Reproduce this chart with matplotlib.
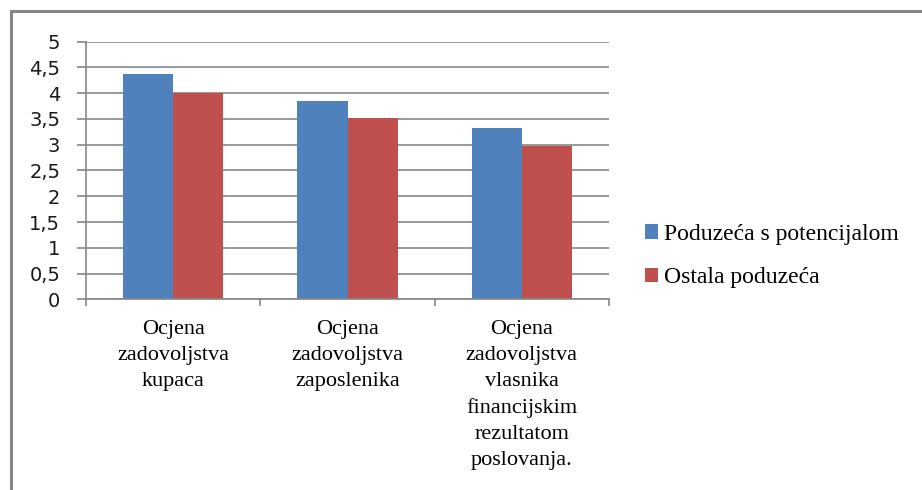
# -*- coding: utf-8 -*-

# Grouped bar chart: satisfaction scores, companies with potential vs others.
import matplotlib
matplotlib.use("Agg")
import matplotlib.pyplot as plt
from matplotlib.patches import Rectangle
import numpy as np

categories = ["Ocjena\nzadovoljstva\nkupaca",
              "Ocjena\nzadovoljstva\nzaposlenika",
              "Ocjena\nzadovoljstva\nvlasnika\nfinancijskim\nrezultatom\nposlovanja."]
series_names = ["Poduzeća s potencijalom", "Ostala poduzeća"]
potencijal = [4.37, 3.85, 3.33]
ostala = [4.01, 3.51, 2.98]
y_ticks = [0, 0.5, 1, 1.5, 2, 2.5, 3, 3.5, 4, 4.5, 5]
y_labels = ["0", "0,5", "1", "1,5", "2", "2,5", "3", "3,5", "4", "4,5", "5"]

grid_col = "#868686"
blue = "#4F81BD"
red = "#C0504D"
serif = "Liberation Serif"

fig = plt.figure(figsize=(9.22, 4.90), dpi=100)

# Chart frame (runs off the right and bottom of the picture).
fig.patches.append(Rectangle((10.5 / 922, -0.1), 1.2, 1 - 11.5 / 490 + 0.1,
                             transform=fig.transFigure, fill=False,
                             edgecolor=grid_col, linewidth=2.2, zorder=0))

ax = fig.add_axes([86 / 922, 190.7 / 490, 523 / 922, 257.6 / 490])

x = np.arange(len(categories)) + 0.5
w = 0.287
ax.bar(x - w / 2, potencijal, w, color=blue, label=series_names[0], zorder=3)
ax.bar(x + w / 2, ostala, w, color=red, label=series_names[1], zorder=3)

ax.set_xlim(0, 3)
ax.set_ylim(0, 5)
ax.set_yticks(y_ticks)
ax.set_yticklabels(y_labels, fontsize=14, family="DejaVu Sans", color="#1a1a1a")
ax.yaxis.grid(True, color=grid_col, linewidth=1.2, zorder=0)
ax.tick_params(axis="y", length=6.5, color=grid_col, width=1.2, pad=12)

ax.set_xticks(x)
ax.set_xticklabels(categories, fontsize=16, family=serif, linespacing=1.5)
ax.set_xticks([0, 1, 2, 3], minor=True)
ax.tick_params(axis="x", which="major", length=0, pad=15)
ax.tick_params(axis="x", which="minor", length=5, color=grid_col, width=1.2)

for s in ["top", "right"]:
    ax.spines[s].set_visible(False)
for s in ["left", "bottom"]:
    ax.spines[s].set_color(grid_col)
    ax.spines[s].set_linewidth(1.2)
ax.spines["bottom"].set_zorder(4)

fig.legend(loc="center left", bbox_to_anchor=(645 / 922, 1 - 256 / 490),
           frameon=False, prop={"family": serif, "size": 17},
           handlelength=0.55, handleheight=0.55, handletextpad=0.25,
           labelspacing=0.95, borderaxespad=0, borderpad=0)

fig.savefig("out.png", dpi=100)
